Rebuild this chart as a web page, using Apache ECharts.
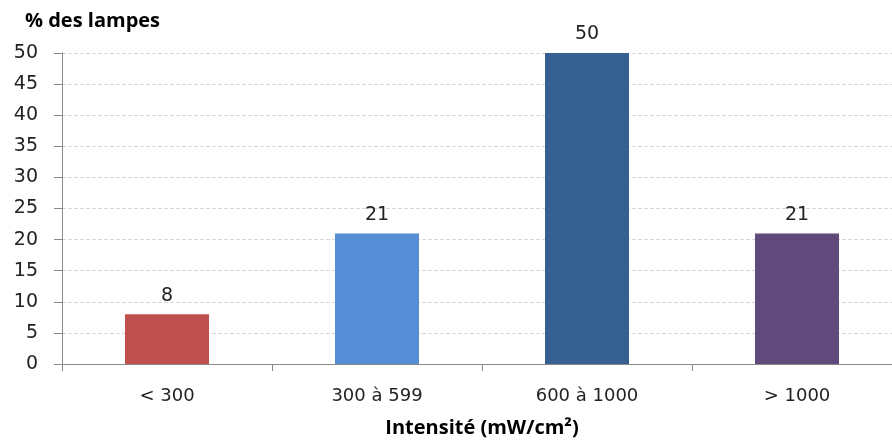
<!DOCTYPE html>
<html lang="fr">
<head>
    <meta charset="UTF-8">
    <title>Intensité des lampes</title>
    <style>
        body{ margin:0; background:#fff; }
    </style>
</head>
<body>
<div id="myChart" style="width: 892px;height: 441px;"></div>
<script src="https://cdn.jsdelivr.net/npm/echarts@6/dist/echarts.min.js"></script>
<script>
    var categories = ["< 300", "300 à 599", "600 à 1000", "> 1000"];
    var values = [8, 21, 50, 21];
    var colors = ["#C0504D", "#558ED5", "#376092", "#604A7B"];

    var myChart = echarts.init(document.getElementById("myChart"));
    var font = "'DejaVu Sans', sans-serif";
    var boldFont = "'Open Sans', sans-serif";

    option = {
        animation: false,
        title: {
            text: "% des lampes",
            left: 20,
            top: 6,
            textStyle: { fontFamily: boldFont, fontSize: 20, fontWeight: "bold", color: "#000" }
        },
        // grid runs past the right edge, as in the original
        grid: { left: 62, right: -10, top: 53, bottom: 77, outerBoundsMode: "none", containLabel: false },
        xAxis: {
            type: "category",
            data: categories,
            name: "Intensité (mW/cm²)",
            nameLocation: "middle",
            nameGap: 54,
            nameTextStyle: { fontFamily: boldFont, fontSize: 20, fontWeight: "bold", color: "#000" },
            axisLine: { lineStyle: { color: "#888", width: 1 } },
            axisTick: { show: true, length: 7, lineStyle: { color: "#888" } },
            axisLabel: { fontFamily: font, fontSize: 18, color: "#222", margin: 23 }
        },
        yAxis: {
            type: "value",
            min: 0,
            max: 50,
            interval: 5,
            axisLine: { show: true, lineStyle: { color: "#888" } },
            axisTick: { show: true, length: 8, lineStyle: { color: "#888" } },
            axisLabel: { fontFamily: font, fontSize: 19, color: "#222", margin: 24 },
            splitLine: { lineStyle: { color: "#d8d8d8", type: "dashed" } }
        },
        series: [{
            type: "bar",
            barWidth: "40%",
            data: values.map(function (v, i) {
                return { value: v, itemStyle: { color: colors[i] } };
            }),
            label: {
                show: true,
                position: "top",
                distance: 9,
                fontFamily: font,
                fontSize: 19,
                color: "#222"
            }
        }]
    };
    myChart.setOption(option);
</script>
</body>
</html>
